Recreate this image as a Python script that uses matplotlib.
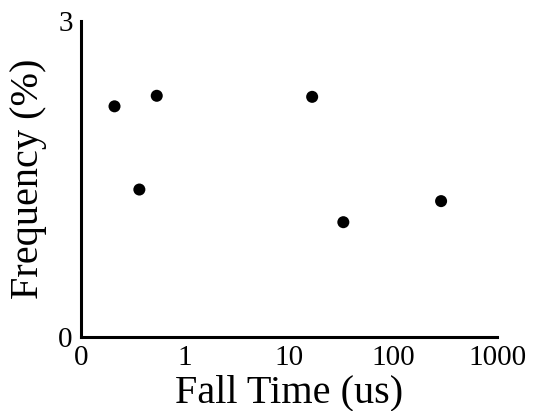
import numpy as np
import matplotlib
matplotlib.use("Agg")
from matplotlib import pyplot as plt

# data (x on a log scale, 0.1 shown as "0")
fall_time = [0.21, 0.535, 0.364, 16.7, 33.3, 290]
frequency = [2.19, 2.29, 1.40, 2.28, 1.09, 1.29]
xticks = [0.1, 1, 10, 100, 1000]
xtick_labels = ["0", "1", "10", "100", "1000"]
yticks = [0, 3]

plt.rcParams['font.family'] = ['Liberation Serif', 'DejaVu Serif']

fig = plt.figure(figsize=(5.33, 4.11), dpi=100)
ax = fig.add_axes([81/533, 74/411, 416/533, 316/411])

ax.scatter(fall_time, frequency, s=75, c='k', edgecolors='none', zorder=3)

ax.set_xscale('log')
ax.set_xlim(0.1, 1000)
ax.set_ylim(0, 3)
ax.set_xticks(xticks)
ax.set_xticklabels(xtick_labels)
ax.minorticks_off()
ax.set_yticks(yticks)
ax.tick_params(length=0, labelsize=21, pad=6)

for s in ['top', 'right']:
    ax.spines[s].set_visible(False)
for s in ['left', 'bottom']:
    ax.spines[s].set_linewidth(2.2)

ax.set_xlabel("Fall Time (us)", fontsize=29, labelpad=2)
ax.set_ylabel("Frequency (%)", fontsize=29, labelpad=8)

fig.savefig("out.png", dpi=100)
